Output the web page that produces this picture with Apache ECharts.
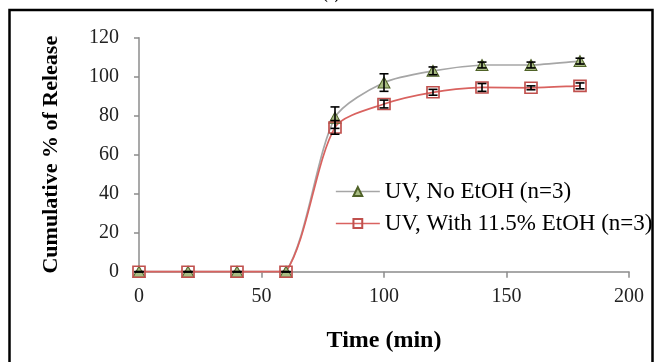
<!DOCTYPE html>
<html>
<head>
<meta charset="utf-8">
<script src="https://cdn.jsdelivr.net/npm/echarts@6/dist/echarts.min.js"></script>
<style>
  html, body { margin: 0; padding: 0; background: #fff; }
  #chart { width: 662px; height: 362px; }
</style>
</head>
<body>
<div id="chart"></div>
<script>
// Sampling times (min)
const times = [0, 20, 40, 60, 80, 100, 120, 140, 160, 180];

// Cumulative release (%) and standard deviations
const noEtohMean = [0, 0, 0, 0, 79, 97, 103, 106, 106, 108];
const noEtohSd   = [0, 0, 0, 0, 5.5, 4.5, 2, 1.5, 1.5, 1.5];
const etohMean   = [0, 0, 0, 0, 74, 86, 92, 94.5, 94.3, 95.3];
const etohSd     = [0, 0, 0, 0, 3.5, 2, 1.5, 2, 1, 1.5];

const seriesNames = ['UV, No EtOH (n=3)', 'UV, With 11.5% EtOH (n=3)'];
const xTicks = [0, 50, 100, 150, 200];
const yTicks = [0, 20, 40, 60, 80, 100, 120];

const serif = '"Liberation Serif", "Times New Roman", serif';
const greyLine = '#a6a6a6';
const redLine = '#d9625f';

function pairs(xs, ys) { return xs.map((x, i) => [x, ys[i]]); }
function errRows(xs, ys, sd) { return xs.map((x, i) => [x, ys[i] - sd[i], ys[i] + sd[i]]); }

// One row per curve segment: previous, start, end and following point
function segmentRows(xs, ys) {
  const n = xs.length, rows = [];
  for (let i = 0; i < n - 1; i++) {
    const a = Math.max(i - 1, 0), d = Math.min(i + 2, n - 1);
    rows.push([xs[a], ys[a], xs[i], ys[i], xs[i + 1], ys[i + 1], xs[d], ys[d]]);
  }
  return rows;
}

// Control point along the neighbour chord, kept inside the segment's vertical span
function controlPoint(prev, cur, next, toward, sign, k) {
  const dx = next[0] - prev[0], dy = next[1] - prev[1];
  const len = Math.hypot(dx, dy);
  if (!len) return cur.slice();
  const L = Math.hypot(toward[0] - cur[0], toward[1] - cur[1]) * k;
  let x = cur[0] + sign * dx / len * L;
  let y = cur[1] + sign * dy / len * L;
  const lo = Math.min(cur[1], toward[1]), hi = Math.max(cur[1], toward[1]);
  y = Math.min(hi, Math.max(lo, y));
  return [x, y];
}

function smoothSegment(color) {
  return function (params, api) {
    const p = [0, 1, 2, 3].map(k => api.coord([api.value(2 * k), api.value(2 * k + 1)]));
    const c1 = controlPoint(p[0], p[1], p[2], p[2], 1, 0.25);
    const c2 = controlPoint(p[1], p[2], p[3], p[1], -1, 0.25);
    return {
      type: 'bezierCurve',
      shape: { x1: p[1][0], y1: p[1][1], x2: p[2][0], y2: p[2][1],
               cpx1: c1[0], cpy1: c1[1], cpx2: c2[0], cpy2: c2[1] },
      style: { stroke: color, lineWidth: 1.7, fill: null }
    };
  };
}

// Vertical error bar with caps
function errorBar(params, api) {
  const x = api.value(0);
  const lo = api.coord([x, api.value(1)]);
  const hi = api.coord([x, api.value(2)]);
  const half = 4.5;
  const style = { stroke: '#000', lineWidth: 1.6 };
  return {
    type: 'group',
    children: [
      { type: 'line', shape: { x1: lo[0], y1: lo[1], x2: hi[0], y2: hi[1] }, style },
      { type: 'line', shape: { x1: lo[0] - half, y1: lo[1], x2: lo[0] + half, y2: lo[1] }, style },
      { type: 'line', shape: { x1: hi[0] - half, y1: hi[1], x2: hi[0] + half, y2: hi[1] }, style }
    ]
  };
}

const chart = echarts.init(document.getElementById('chart'), null, { renderer: 'canvas' });

chart.setOption({
  animation: false,
  backgroundColor: '#fff',
  graphic: [
    { type: 'rect', shape: { x: 9.5, y: 10, width: 643, height: 360 },
      style: { fill: 'none', stroke: '#000', lineWidth: 2.5 }, z: 100 },
    { type: 'text', left: 323, top: -12,
      style: { text: '(a)', font: 'bold 14px ' + serif, fill: '#000' } }
  ],
  grid: { left: 139, right: 33, top: 37.7, bottom: 90.3, containLabel: false },
  legend: {
    data: [
      { name: seriesNames[0], lineStyle: { color: greyLine, width: 1.7, opacity: 1 } },
      { name: seriesNames[1], lineStyle: { color: redLine, width: 1.7, opacity: 1 } }
    ],
    orient: 'vertical',
    left: 335,
    top: 180,
    padding: 0,
    itemGap: 9,
    itemWidth: 44,
    itemHeight: 11,
    textStyle: { fontFamily: serif, fontSize: 23, color: '#000' },
    inactiveColor: '#000'
  },
  xAxis: {
    type: 'value',
    min: 0, max: 200, interval: 50,
    name: 'Time (min)',
    nameLocation: 'middle',
    nameGap: 57,
    nameTextStyle: { fontFamily: serif, fontSize: 24, fontWeight: 'bold', color: '#000' },
    axisLine: { show: true, lineStyle: { color: '#8c8c8c', width: 1.5 } },
    axisTick: { show: true, length: 6, lineStyle: { color: '#8c8c8c', width: 1.5 } },
    axisLabel: { fontFamily: serif, fontSize: 20, color: '#222', margin: 15,
                 formatter: v => xTicks.includes(v) ? String(v) : '' },
    splitLine: { show: false }
  },
  yAxis: {
    type: 'value',
    min: 0, max: 120, interval: 20,
    name: 'Cumulative % of Release',
    nameLocation: 'middle',
    nameGap: 77,
    nameRotate: 90,
    nameTextStyle: { fontFamily: serif, fontSize: 22, fontWeight: 'bold', color: '#000' },
    axisLine: { show: true, lineStyle: { color: '#8c8c8c', width: 1.5 } },
    axisTick: { show: true, length: 5, lineStyle: { color: '#8c8c8c', width: 1.5 } },
    axisLabel: { fontFamily: serif, fontSize: 20, color: '#222', margin: 20,
                 formatter: v => yTicks.includes(v) ? String(v) : '' },
    splitLine: { show: false }
  },
  series: [
    {
      name: 'curve1',
      type: 'custom',
      renderItem: smoothSegment(greyLine),
      data: segmentRows(times, noEtohMean),
      encode: { x: [0, 2, 4, 6], y: [1, 3, 5, 7] },
      silent: true,
      z: 2
    },
    {
      name: 'curve2',
      type: 'custom',
      renderItem: smoothSegment(redLine),
      data: segmentRows(times, etohMean),
      encode: { x: [0, 2, 4, 6], y: [1, 3, 5, 7] },
      silent: true,
      z: 2
    },
    {
      name: seriesNames[0],
      type: 'line',
      data: pairs(times, noEtohMean),
      symbol: 'triangle',
      symbolSize: [12, 11],
      lineStyle: { color: greyLine, width: 1.7, opacity: 0 },
      itemStyle: { color: '#a9bd84', borderColor: '#4f6228', borderWidth: 1 },
      z: 3
    },
    {
      name: seriesNames[1],
      type: 'line',
      data: pairs(times, etohMean),
      symbol: 'rect',
      symbolSize: [12, 11],
      lineStyle: { color: redLine, width: 1.7, opacity: 0 },
      itemStyle: { color: 'rgba(255,255,255,0)', borderColor: '#c0504d', borderWidth: 1.6 },
      z: 4
    },
    {
      name: 'sd1',
      type: 'custom',
      renderItem: errorBar,
      data: errRows(times, noEtohMean, noEtohSd),
      encode: { x: 0, y: [1, 2] },
      silent: true,
      z: 5
    },
    {
      name: 'sd2',
      type: 'custom',
      renderItem: errorBar,
      data: errRows(times, etohMean, etohSd),
      encode: { x: 0, y: [1, 2] },
      silent: true,
      z: 6
    }
  ]
});
</script>
</body>
</html>
